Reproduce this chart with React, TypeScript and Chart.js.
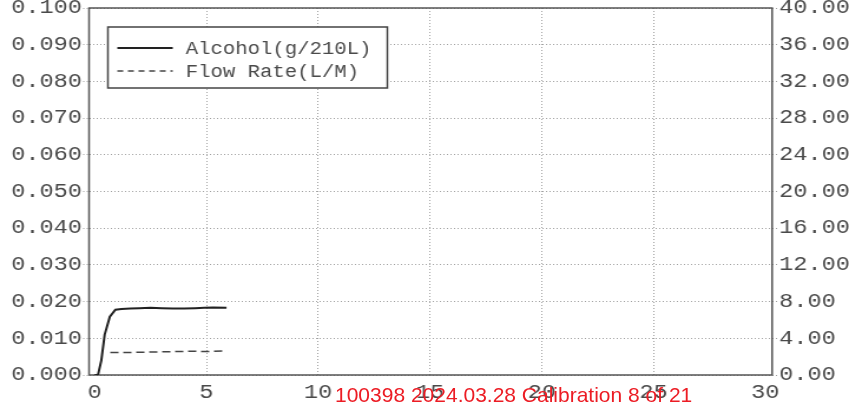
import React, { useEffect, useRef } from 'react';
import { Chart, registerables } from 'chart.js';

Chart.register(...registerables);

// ---- data ----
const alcoholX = [0, 0.15, 0.3, 0.45, 0.68, 0.93, 1.2, 1.6, 2.0, 2.5, 3.0, 3.5, 4.0, 4.5, 4.9, 5.3, 5.9];
const alcoholY = [0, 0, 0.004, 0.011, 0.0159, 0.0178, 0.018, 0.0181, 0.0182, 0.0183, 0.0182, 0.0181, 0.0181, 0.0182, 0.0183, 0.0184, 0.0183];
const flowX = [0.7, 1.5, 2.5, 3.5, 4.5, 5.0, 5.9];
const flowY = [2.45, 2.45, 2.5, 2.55, 2.6, 2.55, 2.65];

const xTicks = [0, 5, 10, 15, 20, 25, 30];
const leftTicks = [0, 0.01, 0.02, 0.03, 0.04, 0.05, 0.06, 0.07, 0.08, 0.09, 0.1];
const rightTicks = [0, 4, 8, 12, 16, 20, 24, 28, 32, 36, 40];
const seriesLabels = ['Alcohol(g/210L)', 'Flow Rate(L/M)'];
const footnote = '100398 2024.03.28 Calibration 8 of 21';

// ---- layout / style ----
const CW = 720; // internal canvas width (stretched to 849 on screen)
const CH = 404;
const MONO = '"Liberation Mono", "DejaVu Sans Mono", monospace';
const GRID = '#a0a0a0';
const TEXT = '#4a4a4a';

const framePlugin = {
  id: 'frameAndLegend',
  beforeDatasetsDraw(chart: any) {
    const { ctx, chartArea: a } = chart;
    ctx.save();
    ctx.strokeStyle = '#555';
    ctx.lineWidth = 1.5;
    ctx.strokeRect(a.left, a.top, a.right - a.left, a.bottom - a.top);
    ctx.restore();
  },
  afterDatasetsDraw(chart: any) {
    const { ctx, chartArea: a } = chart;
    const bx = a.left + 16;
    const by = a.top + 19;
    const bw = 237;
    const bh = 61;
    ctx.save();
    ctx.fillStyle = '#fff';
    ctx.fillRect(bx, by, bw, bh);
    ctx.strokeStyle = '#444';
    ctx.lineWidth = 1.5;
    ctx.strokeRect(bx, by, bw, bh);
    ctx.font = `17.5px ${MONO}`;
    ctx.textBaseline = 'middle';
    ctx.textAlign = 'left';
    chart.data.datasets.forEach((ds: any, i: number) => {
      const y = by + 21 + i * 23;
      ctx.beginPath();
      ctx.strokeStyle = ds.borderColor;
      ctx.lineWidth = i === 0 ? 2 : 1.3;
      ctx.setLineDash(i === 0 ? [] : [5, 4]);
      ctx.moveTo(bx + 8, y);
      ctx.lineTo(bx + 55, y);
      ctx.stroke();
      ctx.setLineDash([]);
      ctx.fillStyle = TEXT;
      ctx.fillText(ds.label, bx + 66, y + 1);
    });
    ctx.restore();
  },
};

export default function App() {
  const canvasRef = useRef<HTMLCanvasElement | null>(null);

  useEffect(() => {
    document.body.style.margin = '0';
    const canvas = canvasRef.current;
    if (!canvas) return;

    const chart = new Chart(canvas, {
      type: 'line',
      data: {
        datasets: [
          {
            label: seriesLabels[0],
            data: alcoholX.map((x, i) => ({ x, y: alcoholY[i] })),
            borderColor: '#222',
            borderWidth: 2,
            pointRadius: 0,
            tension: 0,
            yAxisID: 'y',
          },
          {
            label: seriesLabels[1],
            data: flowX.map((x, i) => ({ x, y: flowY[i] })),
            borderColor: '#444',
            borderWidth: 1.5,
            borderDash: [7, 4],
            pointRadius: 0,
            tension: 0,
            yAxisID: 'y1',
          },
        ],
      },
      options: {
        responsive: false,
        animation: false,
        events: [],
        layout: { padding: { top: 8, left: 0, right: 0, bottom: 0 } },
        plugins: { legend: { display: false }, tooltip: { enabled: false } },
        scales: {
          x: {
            type: 'linear',
            min: -0.25,
            max: 30.3,
            afterBuildTicks: (s: any) => {
              s.ticks = xTicks.map((v) => ({ value: v }));
            },
            afterFit: (s: any) => {
              s.height = 29;
              s.paddingLeft = 0;
              s.paddingRight = 0;
            },
            ticks: {
              callback: (v: any) => String(v),
              font: { family: MONO, size: 20 },
              color: TEXT,
              padding: 3,
              maxRotation: 0,
              autoSkip: false,
            },
            grid: {
              color: (c: any) =>
                c.tick && (c.tick.value === 0 || c.tick.value === 30) ? 'rgba(0,0,0,0)' : GRID,
              lineWidth: 1,
              drawTicks: true,
              tickLength: 3,
              tickColor: 'rgba(0,0,0,0)',
            },
            border: { display: false, dash: [1, 2] },
          },
          y: {
            type: 'linear',
            position: 'left',
            min: 0,
            max: 0.1,
            afterBuildTicks: (s: any) => {
              s.ticks = leftTicks.map((v) => ({ value: v }));
            },
            afterFit: (s: any) => {
              s.width = 75.5;
              s.paddingTop = 0;
              s.paddingBottom = 0;
            },
            ticks: {
              callback: (v: any) => Number(v).toFixed(3),
              font: { family: MONO, size: 20 },
              color: TEXT,
              padding: 1,
            },
            grid: {
              color: GRID,
              lineWidth: 1,
              drawTicks: true,
              tickLength: 5,
              tickColor: GRID,
              tickBorderDash: [1, 2],
            },
            border: { display: false, dash: [1, 2] },
          },
          y1: {
            type: 'linear',
            position: 'right',
            min: 0,
            max: 40,
            afterBuildTicks: (s: any) => {
              s.ticks = rightTicks.map((v) => ({ value: v }));
            },
            afterFit: (s: any) => {
              s.width = 65.2;
              s.paddingTop = 0;
              s.paddingBottom = 0;
            },
            ticks: {
              callback: (v: any) => Number(v).toFixed(2),
              font: { family: MONO, size: 20 },
              color: TEXT,
              padding: 1,
            },
            grid: {
              drawOnChartArea: false,
              color: GRID,
              drawTicks: true,
              tickLength: 5,
              tickColor: GRID,
              tickBorderDash: [1, 2],
            },
            border: { display: false },
          },
        },
      },
      plugins: [framePlugin],
    } as any);

    return () => chart.destroy();
  }, []);

  return (
    <div style={{ position: 'relative', width: 849, height: 404, background: '#fff', overflow: 'hidden' }}>
      <canvas
        ref={canvasRef}
        width={CW}
        height={CH}
        style={{ display: 'block', width: '849px', height: '404px' }}
      />
      <div
        style={{
          position: 'absolute',
          left: 335,
          top: 384,
          fontFamily: '"Liberation Sans", Arial, sans-serif',
          fontSize: 21,
          lineHeight: '21px',
          color: 'rgb(236,28,36)',
          whiteSpace: 'nowrap',
        }}
      >
        {footnote}
      </div>
    </div>
  );
}
